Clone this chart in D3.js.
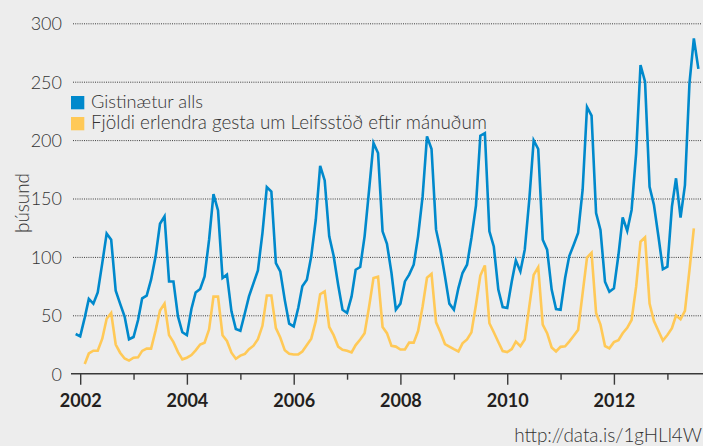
<!DOCTYPE html>
<html>
<head>
<meta charset="utf-8">
<script src="https://cdn.jsdelivr.net/npm/d3@7"></script>
<style>
  html, body { margin: 0; padding: 0; background: #EDEDED; }
  svg { display: block; }
  text { font-family: Lato, "Noto Sans", sans-serif; }
</style>
</head>
<body>
<svg id="chart" width="703" height="446"></svg>
<script>
// ---------------- DATA ----------------
const seriesNames = ["Gistinætur alls", "Fjöldi erlendra gesta um Leifsstöð eftir mánuðum"];
const seriesColors = ["#0089CC", "#FFC957"];

// Gistinætur alls (þúsund), monthly, first value = Dec 2001
const blueStart = [2001, 11];
const blueValues = [
  34,
  32, 48, 64, 60, 69.6, 94.7, 120, 114.7, 71, 60, 49, 29.5,          // 2002
  31.4, 46, 64.5, 66.8, 80.5, 100.5, 128.4, 134.7, 79, 79, 49, 35.5, // 2003
  33, 55.4, 69.6, 72.5, 83.3, 114.7, 153.8, 139.8, 81.9, 84.8, 53.4, 38.2, // 2004
  36.8, 52, 66.2, 77.6, 88.5, 120.4, 159.8, 156, 94.7, 87.6, 63, 42.8,     // 2005
  40.5, 56.2, 74.8, 80.5, 100.5, 131.8, 178, 165.5, 117.6, 101, 76.2, 54.8, // 2006
  52, 66.2, 89, 91.3, 117.6, 157.5, 197.5, 189, 121.9, 111.3, 86.2, 54.8,  // 2007
  60, 79, 84.8, 93.3, 117.6, 151.8, 203.2, 192.4, 123.3, 106.2, 83.3, 60,  // 2008
  54.8, 73.3, 86.2, 93.3, 116.2, 143.8, 203.8, 206, 121.9, 109, 72, 57,    // 2009
  56.2, 79, 97, 87.6, 106.2, 149, 199.8, 192.4, 114.7, 106.2, 72, 55.4,    // 2010
  54.8, 81.9, 100.5, 110.4, 120.4, 157.5, 228.3, 220.9, 137.6, 123, 78.8, 70.2, // 2011
  73.1, 101.6, 133.9, 122.4, 140.2, 188.7, 264.3, 250, 160, 144.4, 117.3, 89.4, // 2012
  91.6, 143, 167.3, 133.6, 161.5, 248.6, 287, 261                          // 2013
];

// Fjöldi erlendra gesta um Leifsstöð (þúsund), monthly, first value = Feb 2002
const yellowStart = [2002, 1];
const yellowValues = [
  8.3, 17.3, 19.7, 19.7, 30, 47, 52, 25, 18, 13, 11.2,               // 2002
  13.7, 14, 19.5, 21.5, 21.5, 37, 54, 60, 33, 27, 18.5, 12.3,        // 2003
  13.7, 16, 20, 25, 26.5, 38, 66, 66, 33, 28, 18, 12.8,              // 2004
  15.5, 17, 21, 24, 29.5, 41, 67, 67, 39, 31, 20, 17,                // 2005
  16.5, 16.5, 19, 24.6, 30, 45, 68, 70.5, 40, 33, 23.2, 20.5,        // 2006
  19.7, 18.2, 24.5, 29.3, 34.7, 57.6, 82, 83, 40, 34.7, 23.8, 23.2,  // 2007
  20.7, 20.7, 26.6, 26.6, 36.5, 57.6, 82.2, 85.5, 44, 35.4, 25.4, 23.2, // 2008
  21, 19, 26, 29.3, 35.4, 59, 84, 92.7, 43.2, 35.5, 27.2, 19.4,      // 2009
  18.5, 21, 27.5, 23.5, 29.3, 57.6, 84.6, 91.2, 42, 34.7, 22.5, 19,  // 2010
  23, 23.5, 27.5, 32.5, 37.5, 69, 99.5, 103.5, 52, 42, 23.7, 21.7,   // 2011
  27, 28.6, 34.6, 39.3, 46, 74.5, 113, 116.8, 60, 45, 36.5, 28.3,    // 2012
  33.1, 38.9, 49.8, 46.6, 53.8, 88.8, 124.5                          // 2013
];

const yTicks = [0, 50, 100, 150, 200, 250, 300];
const xYears = [2002, 2003, 2004, 2005, 2006, 2007, 2008, 2009, 2010, 2011, 2012, 2013];
const yAxisTitle = "þúsund";
const sourceText = "http://data.is/1gHLl4W";

// ---------------- LAYOUT ----------------
const svg = d3.select("#chart");
const W = 703, H = 446;
const plotLeft = 73, plotRight = 702;
const lightFont = "Lato, 'Noto Sans', sans-serif";

const x = d3.scaleTime()
  .domain([new Date(2002, 0, 1), new Date(2013, 0, 1)])
  .range([80.2, 667.4]);
const y = d3.scaleLinear().domain([0, 300]).range([373.7, 23.3]);

function toPoints(start, values) {
  return values.map((v, i) => ({ date: new Date(start[0], start[1] + i, 1), value: v }));
}
const blueData = toPoints(blueStart, blueValues);
const yellowData = toPoints(yellowStart, yellowValues);

// helper: fit text to a target width by scaling the font size
function fitWidth(sel, target) {
  const node = sel.node();
  const fs = parseFloat(sel.attr("font-size"));
  const w = node.getComputedTextLength();
  if (w > 0) sel.attr("font-size", (fs * target / w).toFixed(2));
}

// Y grid + labels
const yAxis = d3.axisLeft(y)
  .tickValues(yTicks)
  .tickSize(-(plotRight - plotLeft))
  .tickPadding(11)
  .tickFormat(d3.format("d"));
const gy = svg.append("g")
  .attr("transform", `translate(${plotLeft},0)`)
  .call(yAxis);
gy.select(".domain").remove();
gy.selectAll(".tick line")
  .attr("stroke", "#3c3c3c")
  .attr("stroke-width", 1)
  .attr("stroke-dasharray", "1,1.2")
  .filter(d => d === 0).remove();
gy.selectAll(".tick text")
  .attr("font-family", lightFont)
  .attr("font-weight", 300)
  .attr("font-size", 18)
  .attr("fill", "#333333")
  .attr("dy", "0.36em");

// X axis
const xAxis = d3.axisBottom(x)
  .tickValues(xYears.map(yr => new Date(yr, 0, 1)))
  .tickSize(11)
  .tickPadding(5)
  .tickFormat(d => d.getFullYear() % 2 === 0 ? String(d.getFullYear()) : "");
const gx = svg.append("g")
  .attr("transform", `translate(0,${y(0)})`)
  .call(xAxis);
gx.select(".domain").remove();
gx.selectAll(".tick line")
  .attr("stroke", "#3a3a3a")
  .attr("stroke-width", 1.4)
  .attr("y2", d => d.getFullYear() % 2 === 0 ? 11 : 6);
gx.selectAll(".tick text")
  .attr("font-family", lightFont)
  .attr("font-weight", "bold")
  .attr("font-size", 18)
  .attr("fill", "#231F20")
  .attr("dy", "0.95em");
gx.append("line")
  .attr("x1", 71).attr("x2", W)
  .attr("y1", 0).attr("y2", 0)
  .attr("stroke", "#3a3a3a")
  .attr("stroke-width", 1.6);

// Lines
const line = d3.line().x(d => x(d.date)).y(d => y(d.value));
svg.append("path").datum(yellowData)
  .attr("fill", "none").attr("stroke", seriesColors[1])
  .attr("stroke-width", 2.6).attr("stroke-linejoin", "miter")
  .attr("d", line);
svg.append("path").datum(blueData)
  .attr("fill", "none").attr("stroke", seriesColors[0])
  .attr("stroke-width", 2.6).attr("stroke-linejoin", "miter")
  .attr("d", line);

// Legend
const legendTargets = [112, 396];
seriesNames.forEach((name, i) => {
  const yy = 96 + i * 21;
  svg.append("rect")
    .attr("x", 71).attr("y", yy).attr("width", 13.3).attr("height", 13.3)
    .attr("fill", seriesColors[i]);
  const t = svg.append("text")
    .attr("x", 91).attr("y", yy + 12)
    .attr("font-size", 18)
    .attr("font-weight", 300)
    .attr("fill", "#333333")
    .text(name);
  fitWidth(t, legendTargets[i]);
});

// Y axis title
const yt = svg.append("text")
  .attr("transform", "translate(29,203) rotate(-90)")
  .attr("text-anchor", "middle")
  .attr("font-size", 18)
  .attr("font-weight", 300)
  .attr("fill", "#333333")
  .text(yAxisTitle);
fitWidth(yt, 60);

// Source
const st = svg.append("text")
  .attr("x", 702).attr("y", 441.5)
  .attr("text-anchor", "end")
  .attr("font-size", 18)
  .attr("font-weight", 300)
  .attr("fill", "#333333")
  .text(sourceText);
fitWidth(st, 188);
</script>
</body>
</html>
